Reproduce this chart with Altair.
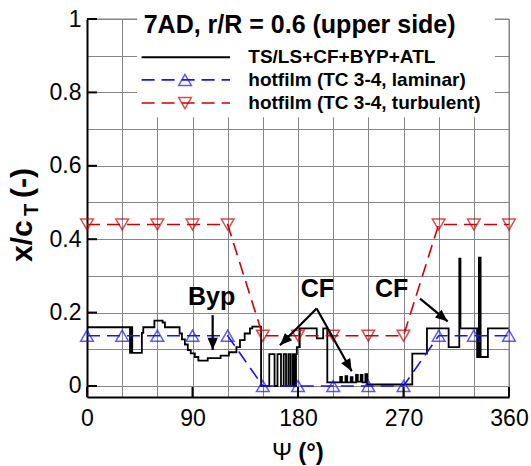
import math
import altair as alt
import pandas as pd

# ---------------- data ----------------
# hotfilm measurement points (psi in deg)
hf_psi = [0, 30, 60, 90, 120, 150, 180, 210, 240, 270, 300, 330, 360]
hf_laminar = [0.137, 0.137, 0.137, 0.137, 0.137, 0.0, 0.0, 0.0, 0.0, 0.0, 0.137, 0.137, 0.137]
hf_turbulent = [0.44, 0.44, 0.44, 0.44, 0.44, 0.137, 0.137, 0.137, 0.137, 0.137, 0.44, 0.44, 0.44]

# TS/LS+CF+BYP+ATL prediction (step-wise)
blk_psi = [0, 36.7, 37.6, 38.6, 46.8, 48, 57.5, 64.5, 66.5, 79, 81, 83.5, 86, 88.5,
           92, 95, 103, 114, 121, 127.5, 130.5, 134.5, 139, 141, 148.5,
           155.5, 160, 162.5, 165.5, 167.8, 169.8, 171.8, 173.5, 175.3, 176.8, 178.3, 179,
           181.5, 196, 201.5, 205,
           216, 217.5, 220.5, 222, 225, 226.5, 229.5, 231, 233.5, 235, 237.5, 239,
           277.5, 290, 308.5, 317.6, 318.6, 332.8, 334.3, 335.8, 342, 360]
blk_val = [0.16, 0.09, 0.16, 0.09, 0.145, 0.16, 0.178, 0.173, 0.16, 0.143, 0.127, 0.113, 0.098, 0.089,
           0.079, 0.069, 0.076, 0.083, 0.092, 0.106, 0.125, 0.143, 0.157, 0.162, 0.0,
           0.087, 0.0, 0.087, 0.0, 0.087, 0.0, 0.087, 0.0, 0.087, 0.0, 0.087, 0.106,
           0.157, 0.13, 0.157, 0.01,
           0.025, 0.01, 0.027, 0.01, 0.024, 0.01, 0.03, 0.012, 0.03, 0.01, 0.032, 0.004,
           0.088, 0.157, 0.106, 0.347, 0.157, 0.079, 0.35, 0.079, 0.157, 0.157]

x_grid = [0, 30, 60, 90, 120, 150, 180, 210, 240, 270, 300, 330, 360]
y_grid = [0.0, 0.1, 0.2, 0.3, 0.4, 0.5, 0.6, 0.7, 0.8, 0.9, 1.0]
x_major = [0, 90, 180, 270, 360]
y_major = [0.0, 0.2, 0.4, 0.6, 0.8, 1.0]

title_text = "7AD, r/R = 0.6 (upper side)"
legend_labels = ["TS/LS+CF+BYP+ATL", "hotfilm (TC 3-4, laminar)", "hotfilm (TC 3-4, turbulent)"]

# ---------------- layout / style ----------------
W, H = 422, 378
XMIN, XMAX = 0, 360
YMIN, YMAX = -0.03, 1.0
FONT = "Liberation Sans"
BLUE = "#1414ff"
RED = "#d00000"
GRID = "#868686"
DASH = [13, 7]

xs = alt.Scale(domain=[XMIN, XMAX], nice=False, zero=False)
ys = alt.Scale(domain=[YMIN, YMAX], nice=False, zero=False)

AX = alt.Axis(
    values=x_grid, grid=True, gridColor=GRID, gridWidth=1, ticks=False,
    domainColor="black", domainWidth=2, labelFont=FONT, labelFontSize=23,
    labelColor="black", labelPadding=10, labelFlush=False, labelOverlap=False,
    labelExpr="datum.value % 90 == 0 ? datum.label : ''", title=None, format="d")
AY = alt.Axis(
    values=y_grid, grid=True, gridColor=GRID, gridWidth=1, ticks=False,
    domainColor="black", domainWidth=2, labelFont=FONT, labelFontSize=23,
    labelColor="black", labelPadding=6, labelFlush=False, labelOverlap=False,
    labelExpr="round(datum.value*10) % 2 == 0 ? format(datum.value, '~g') : ''",
    title=None)


def X(field="psi"):
    return alt.X(f"{field}:Q", scale=xs, axis=AX)


def Y(field="v"):
    return alt.Y(f"{field}:Q", scale=ys, axis=AY)


blk_df = pd.DataFrame({"psi": blk_psi, "v": blk_val})
lam_df = pd.DataFrame({"psi": hf_psi, "v": hf_laminar})
tur_df = pd.DataFrame({"psi": hf_psi, "v": hf_turbulent})

black = alt.Chart(blk_df).mark_line(color="black", strokeWidth=1.8, interpolate="step-after").encode(
    x=X(), y=Y())

lam_line = alt.Chart(lam_df).mark_line(color=BLUE, strokeWidth=1.6, strokeDash=DASH).encode(x=X(), y=Y())
lam_pts = alt.Chart(lam_df).mark_point(shape="triangle-up", size=160, color=BLUE, filled=False,
                                       strokeWidth=1.5).encode(x=X(), y=Y())
tur_line = alt.Chart(tur_df).mark_line(color=RED, strokeWidth=1.6, strokeDash=DASH).encode(x=X(), y=Y())
tur_pts = alt.Chart(tur_df).mark_point(shape="triangle-down", size=160, color=RED, filled=False,
                                       strokeWidth=1.5).encode(x=X(), y=Y())

# frame (top / right, gray)
frame_top = alt.Chart(pd.DataFrame({"psi": [XMIN], "psi2": [XMAX], "v": [YMAX]})).mark_rule(
    color=GRID, strokeWidth=1).encode(x=X(), x2="psi2:Q", y=Y())
frame_right = alt.Chart(pd.DataFrame({"psi": [XMAX], "v": [YMIN], "v2": [YMAX]})).mark_rule(
    color=GRID, strokeWidth=1).encode(x=X(), y=Y(), y2="v2:Q")

# white box behind title + legend
box = alt.Chart(pd.DataFrame({"psi": [42.7], "psi2": [348.0], "v": [0.732], "v2": [1.012]})).mark_rect(
    fill="white").encode(x=X(), x2="psi2:Q", y=Y(), y2="v2:Q")

# title
title = alt.Chart(pd.DataFrame({"psi": [181.4], "v": [0.962], "t": [title_text]})).mark_text(
    font=FONT, fontSize=25, fontWeight="bold", color="black", align="center", baseline="alphabetic"
).encode(x=X(), y=Y(), text="t:N")

# legend
leg_rows_v = [0.896, 0.834, 0.771]
leg_text_v = [0.879, 0.817, 0.755]
leg_x0, leg_x1, leg_xm, leg_xt = 46.6, 122.0, 83.6, 137.6
leg_black = alt.Chart(pd.DataFrame({"psi": [leg_x0], "psi2": [leg_x1], "v": [leg_rows_v[0]]})).mark_rule(
    color="black", strokeWidth=2).encode(x=X(), x2="psi2:Q", y=Y())
leg_blue = alt.Chart(pd.DataFrame({"psi": [leg_x0], "psi2": [leg_x1], "v": [leg_rows_v[1]]})).mark_rule(
    color=BLUE, strokeWidth=1.6, strokeDash=DASH).encode(x=X(), x2="psi2:Q", y=Y())
leg_red = alt.Chart(pd.DataFrame({"psi": [leg_x0], "psi2": [leg_x1], "v": [leg_rows_v[2]]})).mark_rule(
    color=RED, strokeWidth=1.6, strokeDash=DASH).encode(x=X(), x2="psi2:Q", y=Y())
leg_bpt = alt.Chart(pd.DataFrame({"psi": [leg_xm], "v": [leg_rows_v[1]]})).mark_point(
    shape="triangle-up", size=160, color=BLUE, filled=False, strokeWidth=1.5).encode(x=X(), y=Y())
leg_rpt = alt.Chart(pd.DataFrame({"psi": [leg_xm], "v": [leg_rows_v[2]]})).mark_point(
    shape="triangle-down", size=160, color=RED, filled=False, strokeWidth=1.5).encode(x=X(), y=Y())
leg_txt = alt.Chart(pd.DataFrame({"psi": [leg_xt] * 3, "v": leg_text_v, "t": legend_labels})).mark_text(
    font=FONT, fontSize=19, fontWeight="bold", color="black", align="left", baseline="alphabetic"
).encode(x=X(), y=Y(), text="t:N")

# annotations
ann_df = pd.DataFrame({"psi": [106.3, 196.6, 259.9], "v": [0.22, 0.243, 0.243], "t": ["Byp", "CF", "CF"]})
ann_txt = alt.Chart(ann_df).mark_text(font=FONT, fontSize=25, fontWeight="bold", color="black",
                                      align="center", baseline="alphabetic").encode(x=X(), y=Y(), text="t:N")

arrows = [  # (psi_from, v_from, psi_tip, v_tip)
    (107.2, 0.193, 107.2, 0.098),
    (195.9, 0.211, 164.6, 0.111),
    (195.9, 0.211, 225.8, 0.040),
    (284.1, 0.238, 307.7, 0.176),
]
kx = W / (XMAX - XMIN)
ky = H / (YMAX - YMIN)
arrow_layers = []
for p0, v0, p1, v1 in arrows:
    dx = (p1 - p0) * kx
    dy = -(v1 - v0) * ky
    ang = math.degrees(math.atan2(dx, -dy)) % 360
    shaft = alt.Chart(pd.DataFrame({"psi": [p0], "v": [v0], "psi2": [p1], "v2": [v1]})).mark_rule(
        color="black", strokeWidth=2.2).encode(x=X(), y=Y(), x2="psi2:Q", y2="v2:Q")
    head = alt.Chart(pd.DataFrame({"psi": [p1], "v": [v1]})).mark_point(
        shape="M0,0L-0.42,1L0.42,1Z", size=600, filled=True, color="black", opacity=1,
        strokeWidth=0, angle=ang).encode(x=X(), y=Y())
    arrow_layers += [shaft, head]

# inward major ticks
ytick = alt.Chart(pd.DataFrame({"v": y_major})).mark_rule(color="black", strokeWidth=2).encode(
    y=Y(), x=alt.value(0), x2=alt.value(10))
xtick = alt.Chart(pd.DataFrame({"psi": x_major})).mark_rule(color="black", strokeWidth=2).encode(
    x=X(), y=alt.value(H), y2=alt.value(H - 10))

# axis titles (y title has a subscript)
yt1 = alt.Chart(pd.DataFrame({"t": ["x/c"]})).mark_text(
    font=FONT, fontSize=30, fontWeight="bold", color="black", align="left", baseline="alphabetic",
    angle=270).encode(x=alt.value(-55), y=alt.value(243), text="t:N")
yt2 = alt.Chart(pd.DataFrame({"t": ["T"]})).mark_text(
    font=FONT, fontSize=20, fontWeight="bold", color="black", align="left", baseline="alphabetic",
    angle=270).encode(x=alt.value(-49), y=alt.value(197), text="t:N")
yt3 = alt.Chart(pd.DataFrame({"t": ["(-)"]})).mark_text(
    font=FONT, fontSize=30, fontWeight="bold", color="black", align="left", baseline="alphabetic",
    angle=270).encode(x=alt.value(-55), y=alt.value(179), text="t:N")
xt1 = alt.Chart(pd.DataFrame({"t": ["Ψ"]})).mark_text(
    font=FONT, fontSize=24, color="black", align="center", baseline="alphabetic").encode(
    x=alt.value(195), y=alt.value(441), text="t:N")
xt2 = alt.Chart(pd.DataFrame({"t": ["(°)"]})).mark_text(
    font=FONT, fontSize=24, fontWeight="bold", color="black", align="center", baseline="alphabetic").encode(
    x=alt.value(224), y=alt.value(441), text="t:N")

chart = alt.layer(
    black, frame_top, frame_right, lam_line, lam_pts, tur_line, tur_pts,
    box, title, leg_black, leg_blue, leg_red, leg_bpt, leg_rpt, leg_txt,
    ann_txt, *arrow_layers, ytick, xtick, yt1, yt2, yt3, xt1, xt2,
).properties(
    width=W, height=H,
    padding={"left": 87, "top": 19, "right": 22, "bottom": 69},
    autosize=alt.AutoSizeParams(type="none"),
).configure_view(stroke=None).configure(background="white")

chart.save("out.html", embed_options={"renderer": "svg", "actions": False})
